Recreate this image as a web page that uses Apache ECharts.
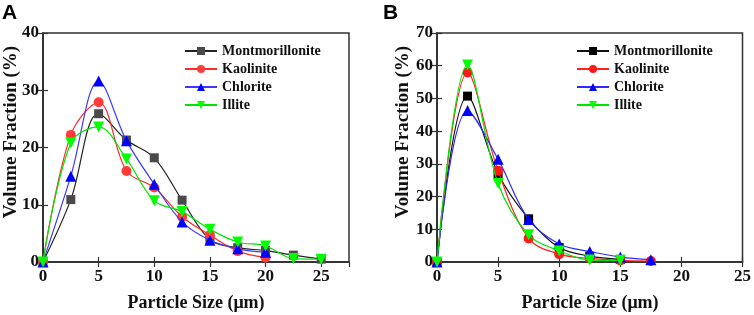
<!DOCTYPE html>
<html>
<head>
<meta charset="utf-8">
<script src="https://cdn.jsdelivr.net/npm/echarts@6/dist/echarts.min.js"></script>
<style>
  html, body { margin: 0; padding: 0; background: #fff; }
  #wrap { width: 754px; height: 315px; position: relative; }
  .chart { position: absolute; top: 0; height: 315px; }
</style>
</head>
<body>
<div id="wrap">
  <div class="chart" id="chartA" style="left:0;width:377px"></div>
  <div class="chart" id="chartB" style="left:377px;width:377px"></div>
</div>
<script>
// panel A
const sizesA = [0, 2.5, 5, 7.5, 10, 12.5, 15, 17.5, 20, 22.5, 25]
const montA = [0, 10.9, 25.9, 21.3, 18.2, 10.8, 3.9, 2.5, 2.0, 1.2, 0.5]
const kaolA = [0, 22.2, 27.9, 15.9, 13.0, 7.9, 4.7, 1.9, 0.8]
const chloA = [0, 15.0, 31.6, 21.2, 13.6, 7.0, 3.8, 2.3, 1.7]
const illiA = [0, 20.8, 23.6, 18.0, 10.7, 8.8, 5.7, 3.5, 2.8, 0.6, 0.5]

// panel B
const sizesB = [0, 2.5, 5, 7.5, 10, 12.5, 15, 17.5]
const montB = [0, 50.7, 27.0, 13.2, 4.4, 1.8, 0.8]
const kaolB = [0, 57.9, 27.9, 7.2, 2.4, 1.1, 0.5, 0.3]
const chloB = [0, 46.3, 31.4, 13.0, 5.5, 3.2, 1.5, 0.7]
const illiB = [0, 60.2, 24.0, 8.3, 3.4, 0.6, 0.5]

const names = ['Montmorillonite', 'Kaolinite', 'Chlorite', 'Illite']
const serif = 'Liberation Serif'
const downTri = 'path://M0,0 L10,0 L5,9 Z'

function pairs(xs, ys) {
  return ys.map((v, i) => [xs[i], v])
}

function buildChart(el, cfg) {
  const chart = echarts.init(document.getElementById(el))
  const symbols = ['rect', 'circle', 'triangle', downTri]
  const sizes = [9, 10, 11, 11]
  chart.setOption({
    animation: false,
    textStyle: { fontFamily: serif },
    graphic: [
      {
        type: 'text', left: cfg.panelX, top: 3,
        style: { text: cfg.panel, font: 'bold 21px "Liberation Sans"', fill: '#000' }
      },
      {
        type: 'text', x: cfg.yNameX, y: 132, rotation: Math.PI / 2,
        style: {
          text: 'Volume Fraction (%)', font: 'bold 19px "Liberation Serif"', fill: '#111',
          align: 'center', verticalAlign: 'middle'
        }
      },
      {
        type: 'text', x: cfg.xNameX, y: 303,
        style: {
          text: 'Particle Size (μm)', font: 'bold 18px "Liberation Serif"', fill: '#111',
          align: 'center', verticalAlign: 'middle'
        }
      }
    ],
    grid: {
      left: cfg.left, right: cfg.right, top: 33, bottom: 53,
      show: true, borderColor: '#333', borderWidth: 1.5, backgroundColor: 'transparent'
    },
    legend: {
      orient: 'vertical',
      left: cfg.legendX,
      top: 44,
      padding: 0,
      itemWidth: 32,
      itemHeight: 10,
      itemGap: 4,
      data: names,
      textStyle: { fontFamily: serif, fontWeight: 'bold', fontSize: 14, color: '#111' }
    },
    xAxis: [
      {
        type: 'value', min: 0, max: cfg.xMax, interval: 5,
        axisLine: { show: true, lineStyle: { color: '#333', width: 1.5 } },
        axisTick: { inside: true, length: 5, lineStyle: { color: '#333', width: 1.2 } },
        axisLabel: {
          showMaxLabel: cfg.xMax === 25, fontFamily: serif, fontWeight: 'bold',
          fontSize: 17, color: '#111', margin: 6
        },
        splitLine: { show: false }
      },
      {
        type: 'value', position: 'top', min: 0, max: cfg.xMax, interval: 5,
        axisLine: { show: true, lineStyle: { color: '#333', width: 1.5 } },
        axisTick: { inside: true, length: 5, lineStyle: { color: '#333', width: 1.2 } },
        axisLabel: { show: false },
        splitLine: { show: false }
      }
    ],
    yAxis: [
      {
        type: 'value', min: 0, max: cfg.yMax, interval: 10,
        axisLine: { show: true, lineStyle: { color: '#333', width: 1.5 } },
        axisTick: { inside: true, length: 5, lineStyle: { color: '#333', width: 1.2 } },
        axisLabel: { fontFamily: serif, fontWeight: 'bold', fontSize: 17, color: '#111', margin: 4 },
        splitLine: { show: false }
      },
      {
        type: 'value', position: 'right', min: 0, max: cfg.yMax, interval: 10,
        axisLine: { show: true, lineStyle: { color: '#333', width: 1.5 } },
        axisTick: { inside: true, length: 5, lineStyle: { color: '#333', width: 1.2 } },
        axisLabel: { show: false },
        splitLine: { show: false }
      }
    ],
    series: cfg.data.map((d, i) => ({
      name: names[i],
      type: 'line',
      smooth: 0.35,
      data: pairs(cfg.sizes, d),
      symbol: symbols[i],
      symbolSize: sizes[i],
      lineStyle: { color: cfg.lineColors[i], width: 1.2 },
      itemStyle: { color: cfg.colors[i] },
      z: 2 + i
    }))
  })
  return chart
}

buildChart('chartA', {
  panel: 'A', panelX: 2, yNameX: 11, xNameX: 196,
  left: 43, right: 28, xMax: 27.5, yMax: 40, legendX: 184,
  sizes: sizesA,
  data: [montA, kaolA, chloA, illiA],
  colors: ['#4a4a4a', '#ff3b3b', '#0000ff', '#00ff00'],
  lineColors: ['#222', '#ff2a2a', '#3a3aff', '#00e400']
})

buildChart('chartB', {
  panel: 'B', panelX: 6, yNameX: 26, xNameX: 213,
  left: 60, right: 11, xMax: 25, yMax: 70, legendX: 199,
  sizes: sizesB,
  data: [montB, kaolB, chloB, illiB],
  colors: ['#000', '#ff1a1a', '#0000ff', '#00ff00'],
  lineColors: ['#111', '#ff2020', '#2a2aff', '#00e400']
})
</script>
</body>
</html>
